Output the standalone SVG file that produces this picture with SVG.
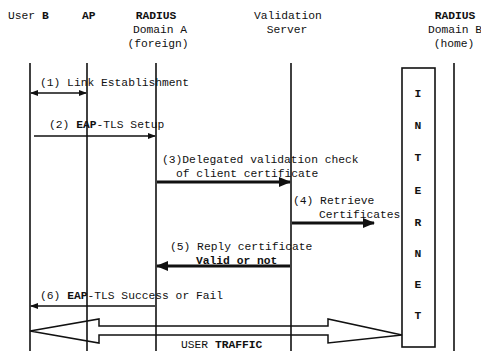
<svg xmlns="http://www.w3.org/2000/svg" width="481" height="351" viewBox="0 0 481 351">
<style>
text{font-family:"Liberation Mono","DejaVu Sans Mono",monospace;font-size:11.3px;fill:#111}
.b{font-weight:bold}
.m{text-anchor:middle}
.life{stroke:#111;stroke-width:1.6;fill:none}
.thin{stroke:#111;stroke-width:1.3;fill:none}
.thick{stroke:#111;stroke-width:3.2;fill:none}
</style>
<defs>
<marker id="ah" markerWidth="8" markerHeight="6" refX="7" refY="3" orient="auto" markerUnits="userSpaceOnUse"><path d="M0,0 L8,3 L0,6 Z" fill="#111"/></marker>
<marker id="ahs" markerWidth="8" markerHeight="6" refX="1" refY="3" orient="auto" markerUnits="userSpaceOnUse"><path d="M8,0 L0,3 L8,6 Z" fill="#111"/></marker>
<marker id="ahb" markerWidth="12" markerHeight="10" refX="11" refY="5" orient="auto" markerUnits="userSpaceOnUse"><path d="M0,0 L12,5 L0,10 Z" fill="#111"/></marker>
</defs>
<g id="userB"><text x="8" y="19">User <tspan class="b">B</tspan></text><line class="life" x1="30" y1="63" x2="30" y2="351"/></g>
<g id="ap"><text x="82" y="19" class="b">AP</text><line class="life" x1="87" y1="63" x2="87" y2="351"/></g>
<g id="radiusA"><text x="156" y="19" class="m b">RADIUS</text><text x="160" y="33" class="m">Domain A</text><text x="158" y="47" class="m">(foreign)</text><line class="life" x1="156" y1="63" x2="156" y2="351"/></g>
<g id="validation"><text x="288" y="19" class="m">Validation</text><text x="287" y="33" class="m">Server</text><line class="life" x1="291" y1="63" x2="291" y2="351"/></g>
<g id="radiusB"><text x="455" y="19" class="m b">RADIUS</text><text x="455" y="33" class="m">Domain B</text><text x="454" y="47" class="m">(home)</text><line class="life" x1="454" y1="63" x2="454" y2="351"/></g>
<g id="internet"><rect x="402" y="68" width="33" height="279" fill="#fff" stroke="#111" stroke-width="1.6"/>
<text x="418" y="97" class="m b">I</text><text x="418" y="129" class="m b">N</text><text x="418" y="161" class="m b">T</text><text x="418" y="194" class="m b">E</text><text x="418" y="226" class="m b">R</text><text x="418" y="257" class="m b">N</text><text x="418" y="288" class="m b">E</text><text x="418" y="319" class="m b">T</text></g>
<g id="connectors">
<text x="40" y="86">(1) Link Establishment</text>
<line class="thin" x1="31" y1="93" x2="86" y2="93" marker-start="url(#ahs)" marker-end="url(#ah)"/>
<text x="49" y="128">(2) <tspan class="b">EAP</tspan>-TLS Setup</text>
<line class="thin" x1="34" y1="136" x2="155" y2="136" marker-end="url(#ah)"/>
<text x="162" y="163">(3)Delegated validation check</text>
<text x="176" y="177">of client certificate</text>
<line class="thick" x1="157" y1="182" x2="290" y2="182" marker-end="url(#ahb)"/>
<text x="293" y="204">(4) Retrieve</text>
<text x="319" y="218">Certificates</text>
<line class="thick" x1="292" y1="223" x2="374" y2="223" marker-end="url(#ahb)"/>
<text x="170" y="250">(5) Reply certificate</text>
<text x="196" y="264" class="b">Valid or not</text>
<line class="thick" x1="290" y1="266" x2="157" y2="266" marker-end="url(#ahb)"/>
<text x="40" y="299">(6) <tspan class="b">EAP</tspan>-TLS Success or Fail</text>
<line class="thin" x1="155" y1="306" x2="31" y2="306" marker-end="url(#ah)"/>
<path d="M30,331 L99,319 L99,326 L328,326 L328,319 L402,335 L328,343 L328,335 L99,335 L99,343 Z" fill="none" stroke="#111" stroke-width="1.5"/>
<text x="181" y="348">USER <tspan class="b">TRAFFIC</tspan></text>
</g>
</svg>
